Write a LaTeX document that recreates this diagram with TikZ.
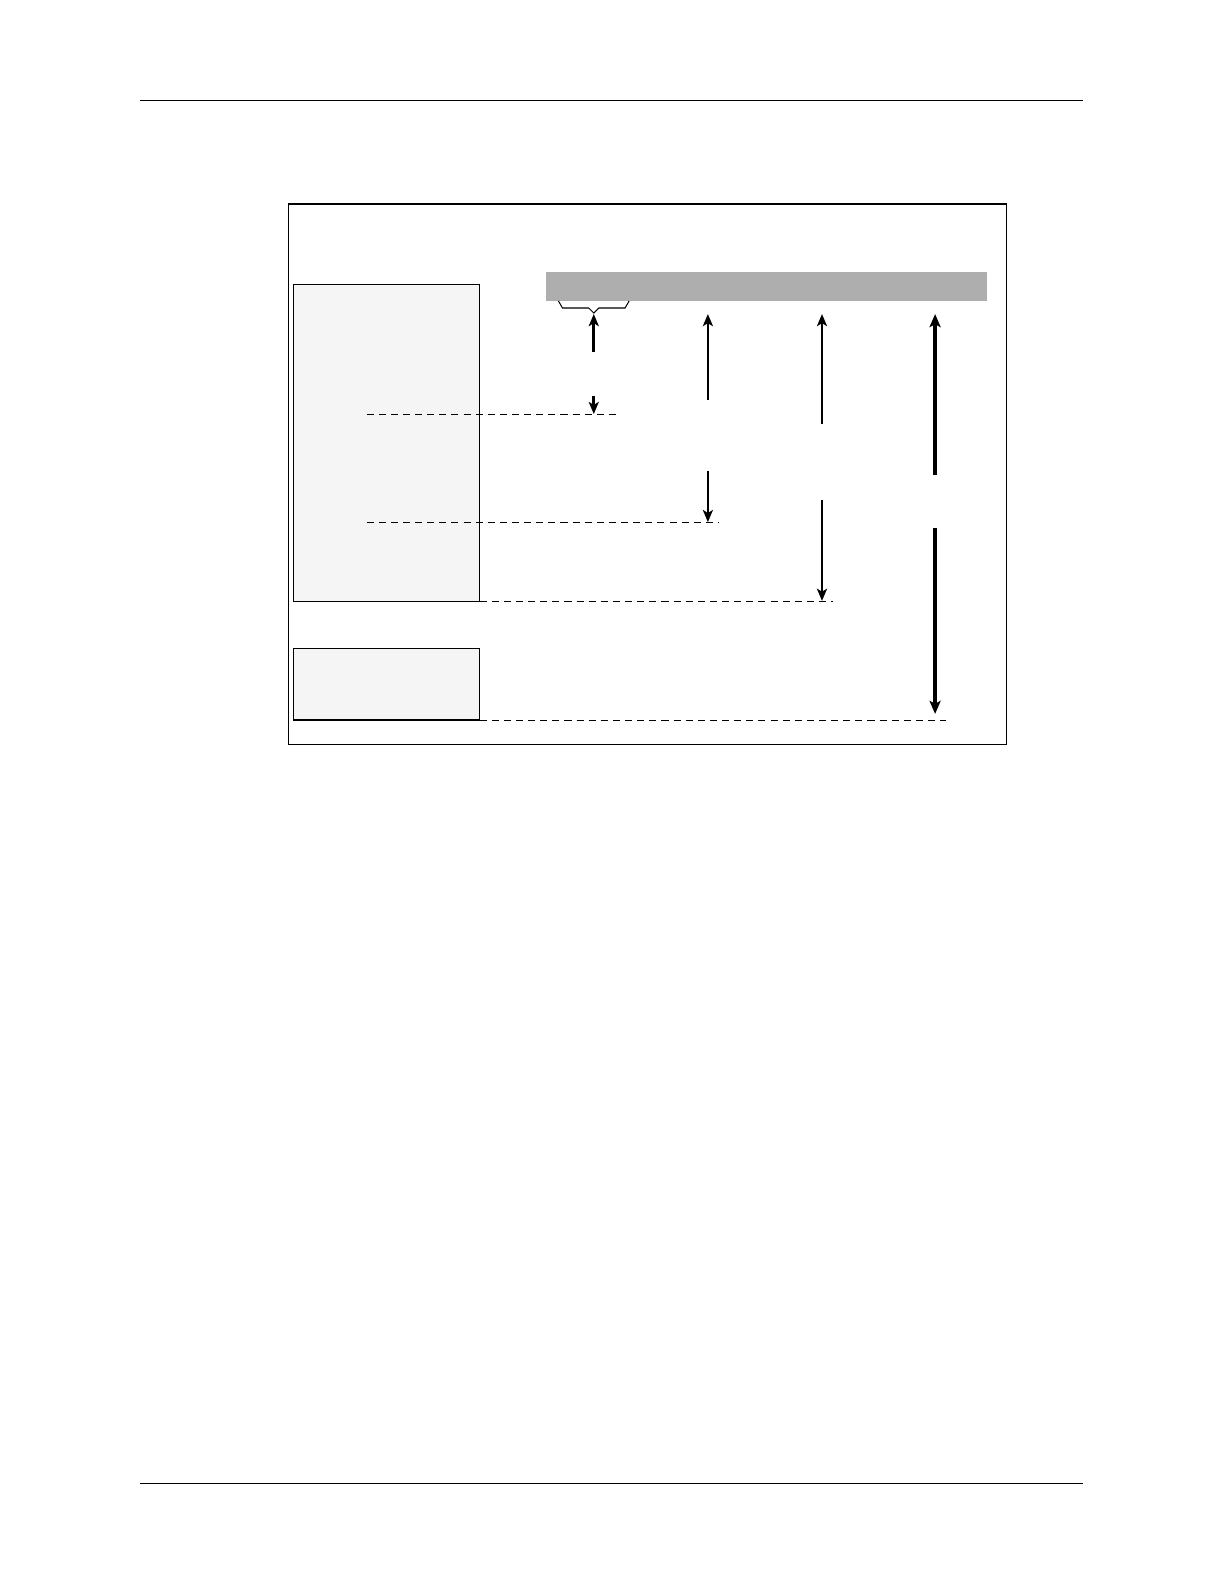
\documentclass[tikz,border=0pt]{standalone}
\usetikzlibrary{arrows.meta}
\definecolor{barfill}{HTML}{AEAEAE}
\definecolor{boxfill}{HTML}{F5F5F5}
\tikzset{
  rule/.style={line width=1bp},
  frame/.style={draw, line width=1.2bp},
  panel/.style={draw, line width=1.2bp, fill=boxfill},
  guide/.style={line width=1bp, dash pattern=on 7bp off 5bp},
  arr/.style={line width=2.6bp, -{Stealth[length=12bp,width=10bp,inset=3bp]}},
  arrbold/.style={line width=3.2bp, -{Stealth[length=13bp,width=11bp,inset=3bp]}},
}
\begin{document}
\begin{tikzpicture}[x=1bp,y=-1bp]
\useasboundingbox (0,0) rectangle (1212.1,1568.6);
% page rules
\draw[rule] (139,100) -- (1072,100);
\draw[rule] (139,1469) -- (1072,1469);
% frame
\draw[frame] (286,202) rectangle (997,737);
% gray bar
\fill[barfill] (541,269) rectangle (977,298);
% boxes
\draw[panel] (291,282) rectangle (475,596);
\draw[panel] (291,642) rectangle (475,713);
% dashed guides
\draw[guide] (363,410) -- (610,410);
\draw[guide] (363,517) -- (712,517);
\draw[guide] (475,596) -- (825,596);
\draw[guide] (475,713) -- (937,713);
% brace
\draw[line width=1bp] (553,298) -- (557,305) -- (583,305) -- (588,310) -- (593,305) -- (619,305) -- (623,298);
% arrows column 1
\coordinate (a1s) at (588,349); \coordinate (a1e) at (588,311);
\coordinate (b1s) at (588,392); \coordinate (b1e) at (588,410);
\draw[arr] (a1s) -- (a1e);
\draw[arr] (b1s) -- (b1e);
% column 2
\coordinate (a2s) at (701,396); \coordinate (a2e) at (701,311);
\coordinate (b2s) at (701,466); \coordinate (b2e) at (701,517);
\draw[arr] (a2s) -- (a2e);
\draw[arr] (b2s) -- (b2e);
% column 3
\coordinate (a3s) at (814,420); \coordinate (a3e) at (814,311);
\coordinate (b3s) at (814,495); \coordinate (b3e) at (814,595);
\draw[arr] (a3s) -- (a3e);
\draw[arr] (b3s) -- (b3e);
% column 4
\coordinate (a4s) at (926,470); \coordinate (a4e) at (926,311);
\coordinate (b4s) at (926,523); \coordinate (b4e) at (926,707);
\draw[arrbold] (a4s) -- (a4e);
\draw[arrbold] (b4s) -- (b4e);
\end{tikzpicture}
\end{document}
